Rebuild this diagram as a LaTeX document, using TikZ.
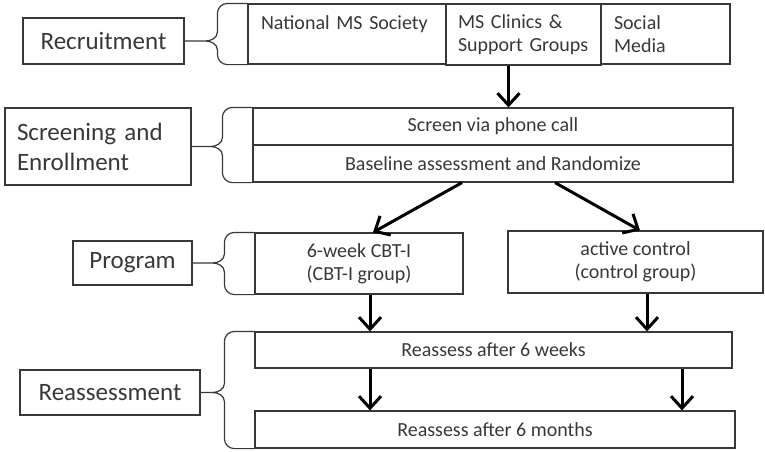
\documentclass[tikz,border=0pt]{standalone}
\usepackage{fontspec}
\setmainfont{Carlito}
\usetikzlibrary{arrows.meta,calc}
\definecolor{inkgray}{RGB}{56,56,56}

\newcommand{\grpbrace}[3]{%
  \draw[brc] let \p1=(#1), \p2=(#2), \p3=(#3.east) in
    (\p1) -- ({\x1-20pt},\y1) to[out=180,in=90] ({\x1-30pt},{\y1-10pt})
    -- ({\x1-30pt},{\y3+9pt}) to[out=-90,in=0] ({\x1-42pt},\y3) -- (\p3)
    ({\x1-42pt},\y3) to[out=0,in=90] ({\x1-30pt},{\y3-9pt})
    -- ({\x1-30pt},{\y2+10pt}) to[out=-90,in=180] ({\x1-20pt},\y2) -- (\p2);
}

\begin{document}
\begin{tikzpicture}[x=1pt,y=-1pt,
  box/.style={draw=inkgray,line width=1.2pt,text=inkgray,inner sep=0pt,
    font=\fontsize{20}{23}\selectfont,align=center},
  stage/.style={box,font=\fontsize{25}{30}\selectfont},
  flow/.style={-{Straight Barb[length=12pt,width=22pt]},line width=3pt,black},
  brc/.style={draw=inkgray,line width=1.2pt}]
  \useasboundingbox (0,0) rectangle (765,451);

  \node[stage,minimum width=161pt,minimum height=46pt] (rec) at (103.5,41) {Recruitment};
  \node[box,minimum width=198pt,minimum height=60pt,text width=172pt,align=left] (nat) at (347,34) {National MS Society\\\mbox{}};
  \node[box,minimum width=155pt,minimum height=61pt,text width=131pt,align=left] (clin) at (523.5,34.5) {MS Clinics \&\\Support Groups};
  \node[box,minimum width=129pt,minimum height=60pt,text width=103pt,align=left] (soc) at (665.5,34) {Social\\Media};

  \node[stage,minimum width=186pt,minimum height=77pt,text width=162pt,align=left] (scrlab) at (98,146.5) {Screening and\\Enrollment};
  \node[box,minimum width=480pt,minimum height=37pt] (scr) at (493,126.5) {Screen via phone call};
  \node[box,minimum width=480pt,minimum height=37pt] (base) at (493,163.5) {Baseline assessment and Randomize};

  \node[stage,minimum width=119pt,minimum height=44pt] (proglab) at (132.5,263) {Program};
  \node[box,minimum width=208pt,minimum height=61pt] (cbt) at (359,263.5) {6-week CBT-I\\(CBT-I group)};
  \node[box,minimum width=255pt,minimum height=62pt] (ctrl) at (635.5,262) {active control\\(control group)};

  \node[stage,minimum width=180pt,minimum height=45pt] (reasslab) at (110,392.5) {Reassessment};
  \node[box,minimum width=477pt,minimum height=36pt] (wk6) at (493.5,350) {Reassess after 6 weeks};
  \node[box,minimum width=480pt,minimum height=37pt] (mo6) at (495,429.5) {Reassess after 6 months};

  \grpbrace{nat.north west}{nat.south west}{rec}
  \grpbrace{scr.north west}{base.south west}{scrlab}
  \grpbrace{cbt.north west}{cbt.south west}{proglab}
  \grpbrace{wk6.north west}{mo6.south west}{reasslab}

  \draw[flow] ([xshift=-15pt]clin.south) -- ([xshift=-15pt]clin.south |- scr.north);
  \draw[flow] ([xshift=-31pt]base.south) -- ([xshift=14pt]cbt.north);
  \draw[flow] ([xshift=62pt]base.south) -- ([xshift=4.5pt]ctrl.north);
  \draw[flow] ([xshift=11pt]cbt.south) -- ([xshift=11pt]cbt.south |- wk6.north);
  \draw[flow] ([xshift=11.5pt]ctrl.south) -- ([xshift=11.5pt]ctrl.south |- wk6.north);
  \draw[flow] ([xshift=11pt]cbt.south |- wk6.south) -- ([xshift=11pt]cbt.south |- mo6.north);
  \draw[flow] ([xshift=188.5pt]wk6.south) -- ([xshift=188.5pt]wk6.south |- mo6.north);
\end{tikzpicture}
\end{document}
